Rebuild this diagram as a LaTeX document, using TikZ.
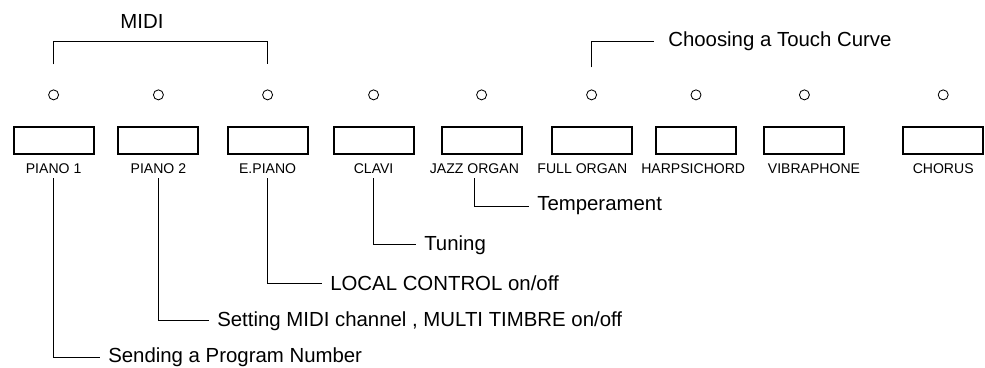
\documentclass[tikz,border=0pt]{standalone}
\usepackage{fontspec}
\setmainfont{Liberation Sans}
\usetikzlibrary{positioning}

\begin{document}
\begin{tikzpicture}[
    button/.style={rectangle, draw, line width=1.3pt, minimum width=2cm, minimum height=0.66cm},
    lamp/.style={circle, draw, line width=0.6pt, inner sep=0pt, minimum size=0.25cm},
    btnlabel/.style={font=\fontsize{10}{12}\selectfont},
    note/.style={font=\fontsize{14.5}{17}\selectfont, anchor=west, inner sep=0pt},
    link/.style={line width=0.6pt}
]

\useasboundingbox (0,0) rectangle (24.625,-9.175);

% voice buttons
\node[button] (piano1) at (1.34,-3.51) {};
\node[button] (piano2) at (3.96,-3.51) {};
\node[button] (epiano) at (6.69,-3.51) {};
\node[button] (clavi) at (9.34,-3.51) {};
\node[button] (jazz) at (12.04,-3.51) {};
\node[button] (full) at (14.79,-3.51) {};
\node[button] (harpsi) at (17.4,-3.51) {};
\node[button] (vibra) at (20.11,-3.51) {};
\node[button] (chorus) at (23.58,-3.51) {};

% indicator lamps
\node[lamp, above=6.5mm of piano1] (lamp1) {};
\node[lamp, above=6.5mm of piano2] (lamp2) {};
\node[lamp, above=6.5mm of epiano] (lamp3) {};
\node[lamp, above=6.5mm of clavi] (lamp4) {};
\node[lamp, above=6.5mm of jazz] (lamp5) {};
\node[lamp, above=6.5mm of full] (lamp6) {};
\node[lamp, above=6.5mm of harpsi] (lamp7) {};
\node[lamp, above=6.5mm of vibra] (lamp8) {};
\node[lamp, above=6.5mm of chorus] (lamp9) {};

% button names
\node[btnlabel, below=1mm of piano1] (lpiano1) {PIANO 1};
\node[btnlabel, below=1mm of piano2] (lpiano2) {PIANO 2};
\node[btnlabel, below=1mm of epiano] (lepiano) {E.PIANO};
\node[btnlabel, below=1mm of clavi] (lclavi) {CLAVI};
\node[btnlabel, below=1mm of jazz, xshift=-1.8mm] (ljazz) {JAZZ ORGAN};
\node[btnlabel, below=1mm of full, xshift=-2.3mm] (lfull) {FULL ORGAN};
\node[btnlabel, below=1mm of harpsi, xshift=-0.7mm] (lharpsi) {HARPSICHORD};
\node[btnlabel, below=1mm of vibra, xshift=2.4mm] (lvibra) {VIBRAPHONE};
\node[btnlabel, below=1mm of chorus] (lchorus) {CHORUS};

% functions
\node[note, anchor=center] (midi) at (3.55,-0.525) {MIDI};
\node[note] (touch) at (16.7,-1.025) {Choosing a Touch Curve};
\node[note] (temper) at (13.425,-5.15) {Temperament};
\node[note] (tuning) at (10.6,-6.12) {Tuning};
\node[note] (local) at (8.25,-7.08) {LOCAL CONTROL on/off};
\node[note] (channel) at (5.425,-8.02) {Setting MIDI channel , MULTI TIMBRE on/off};
\node[note] (program) at (2.7,-8.93) {Sending a Program Number};

\draw[link] ([yshift=6.25mm]lamp1.north) |- ([yshift=-3.25mm]midi.south) -| ([yshift=6.25mm]lamp3.north);
\draw[link, shorten <=5.5mm, shorten >=3.5mm] (lamp6.north) |- (touch.west);

\draw[link, shorten >=2mm] (ljazz.south) |- (temper.west);
\draw[link, shorten >=2mm] (lclavi.south) |- (tuning.west);
\draw[link, shorten >=2mm] (lepiano.south) |- (local.west);
\draw[link, shorten >=2mm] (lpiano2.south) |- (channel.west);
\draw[link, shorten >=2mm] (lpiano1.south) |- (program.west);

\end{tikzpicture}
\end{document}
